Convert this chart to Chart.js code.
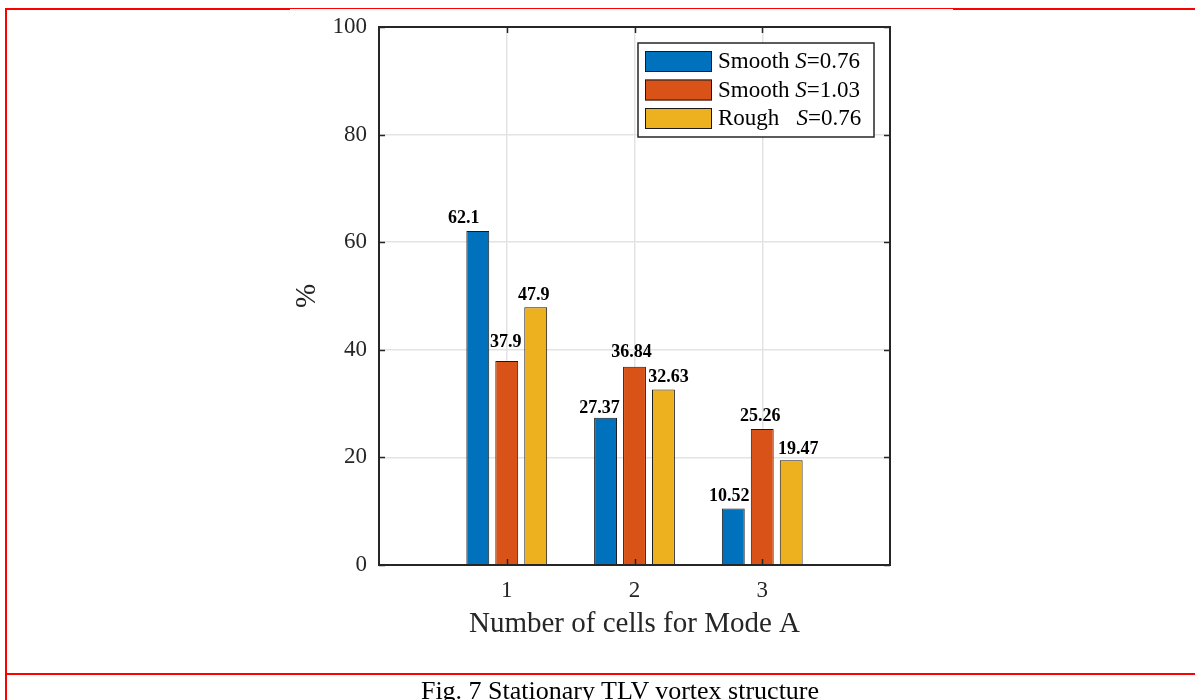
<!DOCTYPE html>
<html>
<head>
<meta charset="utf-8">
<script src="https://cdn.jsdelivr.net/npm/chart.js@4/dist/chart.umd.min.js"></script>
<style>
  body { margin: 0; background: #fff; }
  #wrap { position: relative; width: 1195px; height: 700px; overflow: hidden; background: #fff; }
  #wrap canvas { position: absolute; left: 0; top: 0; }
  .red { position: absolute; background: #ff0000; }
  #caption { position: absolute; left: 0; width: 1240px; top: 678px; line-height: 26px;
             text-align: center; font-size: 26px; font-family: "Liberation Serif", "Times New Roman", serif; color: #000; }
</style>
</head>
<body>
<div id="wrap">
  <canvas id="cellsChart" width="1195" height="700"></canvas>
  <div class="red" style="left:5px;top:8px;width:285px;height:2px"></div>
  <div class="red" style="left:290px;top:8px;width:663px;height:1px"></div>
  <div class="red" style="left:953px;top:8px;width:242px;height:2px"></div>
  <div class="red" style="left:5px;top:8px;width:2px;height:692px"></div>
  <div class="red" style="left:5px;top:673px;width:1190px;height:2px"></div>
  <div id="caption">Fig. 7 Stationary TLV vortex structure</div>
</div>
<script>
// data
const categories = ['1', '2', '3'];
const smooth076 = [62.1, 27.37, 10.52];
const smooth103 = [37.9, 36.84, 25.26];
const rough076 = [47.9, 32.63, 19.47];
const seriesNames = ['Smooth S=0.76', 'Smooth S=1.03', 'Rough   S=0.76'];
const yTicks = [0, 20, 40, 60, 80, 100];

// matlab default colours
const barColors = ['#0072BD', '#D95319', '#EDB120'];
// hand placed value labels in the original are a little off centre
const labelShiftX = [[-14, -6, -4], [-1, -3, -2], [-2, 5, 7]];
const labelGap = [[8, 5, 7], [14, 10, 8], [7, 7, 6]];

const serif = '"Liberation Serif", "Times New Roman", serif';
const axisInk = '#262626';

// blank slots at 0 and 4 so the axis runs from 0 to 4 like the original
const xLabels = [''].concat(categories, ['']);
function pad(arr) { return [null].concat(arr, [null]); }

const seriesData = [smooth076, smooth103, rough076];

const axesBox = {
    id: 'axesBox',
    afterDatasetsDraw(chart) {
        const ctx = chart.ctx;
        const a = chart.chartArea;
        const xs = chart.scales.x, ys = chart.scales.y;
        ctx.save();
        ctx.strokeStyle = axisInk;
        ctx.lineWidth = 1.5;
        ctx.beginPath();
        // inward ticks, matlab style
        categories.forEach((c, i) => {
            const px = Math.round(xs.getPixelForValue(i + 1)) + 0.5;
            ctx.moveTo(px, a.bottom); ctx.lineTo(px, a.bottom - 6);
            ctx.moveTo(px, a.top); ctx.lineTo(px, a.top + 6);
        });
        yTicks.forEach(v => {
            const py = Math.round(ys.getPixelForValue(v)) + 0.5;
            ctx.moveTo(a.left, py); ctx.lineTo(a.left + 6, py);
            ctx.moveTo(a.right, py); ctx.lineTo(a.right - 6, py);
        });
        ctx.stroke();
        ctx.lineWidth = 2;
        ctx.strokeRect(a.left, a.top, a.right - a.left, a.bottom - a.top);
        ctx.restore();
    }
};

const valueLabels = {
    id: 'valueLabels',
    afterDatasetsDraw(chart) {
        const ctx = chart.ctx;
        ctx.save();
        ctx.font = 'bold 18px ' + serif;
        ctx.fillStyle = '#000';
        ctx.textAlign = 'center';
        ctx.textBaseline = 'alphabetic';
        chart.data.datasets.forEach((ds, d) => {
            const meta = chart.getDatasetMeta(d);
            meta.data.forEach((bar, i) => {
                const v = ds.data[i];
                if (v === null) return;
                const k = i - 1;
                ctx.fillText(String(v), bar.x + labelShiftX[d][k], bar.y - labelGap[d][k]);
            });
        });
        ctx.restore();
    }
};

// legend drawn by hand so the S can be italic
const legendBox = {
    id: 'legendBox',
    afterDraw(chart) {
        const ctx = chart.ctx;
        const a = chart.chartArea;
        const w = 236, h = 94;
        const x0 = a.right - 16 - w, y0 = a.top + 16;
        ctx.save();
        ctx.fillStyle = '#fff';
        ctx.fillRect(x0, y0, w, h);
        ctx.strokeStyle = axisInk;
        ctx.lineWidth = 1.5;
        ctx.strokeRect(x0, y0, w, h);
        ctx.textBaseline = 'middle';
        chart.data.datasets.forEach((ds, d) => {
            const cy = y0 + 18 + d * 28.5;
            ctx.fillStyle = ds.backgroundColor;
            ctx.fillRect(x0 + 7, cy - 10, 67, 21);
            ctx.strokeStyle = '#1a1a1a';
            ctx.lineWidth = 1;
            ctx.strokeRect(x0 + 7.5, cy - 9.5, 66, 20);
            const label = ds.label;
            const cut = label.lastIndexOf('S=');
            const parts = [[label.slice(0, cut), ''], ['S', 'italic '], [label.slice(cut + 1), '']];
            let tx = x0 + 80;
            ctx.fillStyle = '#000';
            parts.forEach(p => {
                ctx.font = p[1] + '23px ' + serif;
                ctx.fillText(p[0], tx, cy + 1);
                tx += ctx.measureText(p[0]).width;
            });
        });
        ctx.restore();
    }
};

Chart.defaults.font.family = serif;
Chart.defaults.color = axisInk;

const ctx = document.getElementById('cellsChart').getContext('2d');
new Chart(ctx, {
    type: 'bar',
    data: {
        labels: xLabels,
        datasets: seriesData.map((arr, d) => ({
            label: seriesNames[d],
            data: pad(arr),
            backgroundColor: barColors[d],
            borderColor: '#1a1a1a',
            borderWidth: 1,
            categoryPercentage: 0.68,
            barPercentage: 0.79
        }))
    },
    options: {
        responsive: false,
        animation: false,
        layout: { padding: { left: 290, right: 305, top: 27, bottom: 58 } },
        plugins: {
            legend: { display: false },
            tooltip: { enabled: false }
        },
        scales: {
            x: {
                offset: false,
                grid: { offset: false, color: '#e3e3e3', lineWidth: 1.5, drawTicks: false },
                border: { display: false },
                ticks: { autoSkip: false, maxRotation: 0, padding: 12, color: axisInk, font: { size: 23 } },
                title: { display: true, text: 'Number of cells for Mode A', color: axisInk,
                         font: { size: 29 }, padding: 0 },
                afterFit(s) { s.height = 77; }
            },
            y: {
                min: 0,
                max: 100,
                afterBuildTicks(s) { s.ticks = yTicks.map(v => ({ value: v })); },
                grid: { color: '#e3e3e3', lineWidth: 1.5, drawTicks: false },
                border: { display: false },
                ticks: { padding: 12, color: axisInk, font: { size: 23 } },
                title: { display: true, text: '%', color: axisInk, font: { size: 29 }, padding: 0 },
                afterFit(s) { s.width = 89; }
            }
        }
    },
    plugins: [axesBox, valueLabels, legendBox]
});
</script>
</body>
</html>
